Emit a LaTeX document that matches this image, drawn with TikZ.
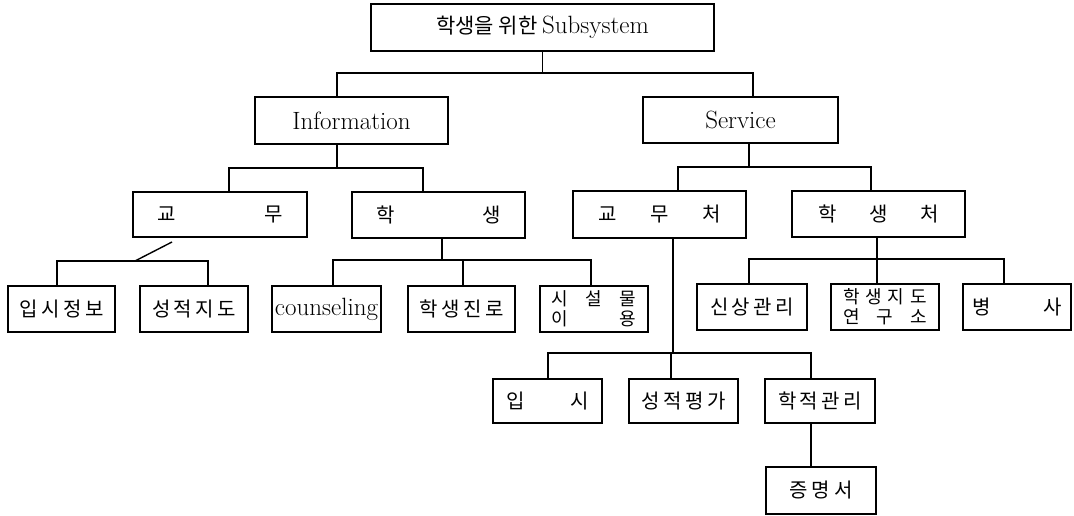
\documentclass[tikz,border=0pt]{standalone}
\usepackage{fontspec}
\newfontfamily\kr{Noto Sans CJK KR}
\usetikzlibrary{positioning}

\begin{document}
\begin{tikzpicture}[
		x=1pt, y=-1pt,
		line width=1.4pt,
		every node/.style = {
			draw, rectangle,
			minimum height=46pt,
			outer sep=0cm, inner sep=0cm,
			font=\kr\fontsize{20}{24}\selectfont
		},
		latin/.style = {font=\rmfamily\fontsize{25}{28}\selectfont},
		twoline/.style = {align=center, font=\kr\fontsize{18}{20}\selectfont}
		]
		\useasboundingbox (0,0) rectangle (1074,516);
		%\draw (0,0) grid[step=50] (1074,516);
		
		% levels 1 and 2
		\node[minimum width=343pt, minimum height=47pt, font=\kr\fontsize{21}{24}\selectfont] (top) at (542.5,27.5) {학생을 위한 {\rmfamily\fontsize{25}{28}\selectfont Subsystem}};
		\node[latin, minimum width=193pt, minimum height=47pt] (info) at (351.5,120.5) {Information};
		\node[latin, minimum width=195pt] (serv) at (740.5,120) {Service};
		
		% level 3
		\node[minimum width=174pt, minimum height=45pt] (kyomu) at (220,214.5) {\makebox[126pt][s]{교\hfill 무}};
		\node[minimum width=173pt] (haksaeng) at (438.5,215) {\makebox[125pt][s]{학\hfill 생}};
		\node[minimum width=173pt, minimum height=47pt] (kyomuch) at (659.5,214.5) {\makebox[123pt][s]{교\hfill 무\hfill 처}};
		\node[minimum width=173pt] (haksch) at (878.5,214) {\makebox[120pt][s]{학\hfill 생\hfill 처}};
		
		% level 4
		\node[minimum width=107pt] (ipsiinfo) at (61.5,309) {\makebox[84pt][s]{입\hfill 시\hfill 정\hfill 보}};
		\node[minimum width=108pt] (jido) at (194,309) {\makebox[84pt][s]{성\hfill 적\hfill 지\hfill 도}};
		\node[latin, minimum width=109pt] (counsel) at (326.5,309) {counseling};
		\node[minimum width=107pt] (jinro) at (461.5,309) {\makebox[84pt][s]{학\hfill 생\hfill 진\hfill 로}};
		\node[twoline, minimum width=108pt] (siseol) at (594,309) {\makebox[85pt][s]{시\hfill 설\hfill 물}\\\makebox[85pt][s]{이\hfill 용}};
		\node[minimum width=110pt] (sinsang) at (752,307) {\makebox[84pt][s]{신\hfill 상\hfill 관\hfill 리}};
		\node[twoline, minimum width=108pt] (yeongu) at (885,307) {\makebox[84pt][s]{학\hfill 생\hfill 지\hfill 도}\\\makebox[84pt][s]{연\hfill 구\hfill 소}};
		\node[minimum width=108pt] (byeongsa) at (1017,307) {\makebox[90pt][s]{병\hfill 사}};
		
		% level 5 and 6
		\node[minimum width=109pt, minimum height=44pt] (ipsi) at (547.5,401) {\makebox[83pt][s]{입\hfill 시}};
		\node[minimum width=109pt, minimum height=44pt] (pyeongga) at (683.5,401) {\makebox[84pt][s]{성\hfill 적\hfill 평\hfill 가}};
		\node[minimum width=110pt, minimum height=44pt] (hakjeok) at (820,401) {\makebox[84pt][s]{학\hfill 적\hfill 관\hfill 리}};
		\node[minimum width=110pt, minimum height=47pt] (jeungmyeong) at (821,490.5) {\makebox[64pt][s]{증\hfill 명\hfill 서}};
		
		% bus lines
		\coordinate (b0l) at (337,73);
		\coordinate (b0r) at (753,73);
		\coordinate (b1s) at (337,168);
		\coordinate (b1l) at (229,168);
		\coordinate (b1r) at (423,168);
		\coordinate (b2s) at (135,261);
		\coordinate (b2l) at (57,261);
		\coordinate (b2r) at (208,261);
		\coordinate (b3s) at (442,260);
		\coordinate (b3l) at (333,260);
		\coordinate (b3m) at (463,260);
		\coordinate (b3r) at (591,260);
		\coordinate (b4s) at (749,167);
		\coordinate (b4l) at (678,167);
		\coordinate (b4r) at (871,167);
		\coordinate (b5s) at (673,353);
		\coordinate (b5l) at (548,353);
		\coordinate (b5m) at (671,353);
		\coordinate (b5r) at (811,353);
		\coordinate (b6s) at (877,259);
		\coordinate (b6l) at (749,259);
		\coordinate (b6r) at (1004,259);
		
		\draw (top.south) -- (top.south |- b0l);
		\draw (info.north -| b0l) -- (b0l) -- (b0r) -- (serv.north -| b0r);
		
		\draw (info.south -| b1s) -- (b1s);
		\draw (kyomu.north -| b1l) -- (b1l) -- (b1r) -- (haksaeng.north -| b1r);
		
		\draw ([shift={(-48pt,-5pt)}]kyomu.south) -- (b2s);
		\draw (ipsiinfo.north -| b2l) -- (b2l) -- (b2r) -- (jido.north -| b2r);
		
		\draw (haksaeng.south -| b3s) -- (b3s);
		\draw (counsel.north -| b3l) -- (b3l) -- (b3r) -- (siseol.north -| b3r);
		\draw (b3m) -- (jinro.north -| b3m);
		
		\draw (serv.south -| b4s) -- (b4s);
		\draw (kyomuch.north -| b4l) -- (b4l) -- (b4r) -- (haksch.north -| b4r);
		
		\draw (kyomuch.south -| b5s) -- (b5s);
		\draw (ipsi.north -| b5l) -- (b5l) -- (b5r) -- (hakjeok.north -| b5r);
		\draw (b5m) -- (pyeongga.north -| b5m);
		\draw (hakjeok.south -| b5r) -- (jeungmyeong.north -| b5r);
		
		\draw (haksch.south -| b6s) -- (b6s);
		\draw (sinsang.north -| b6l) -- (b6l) -- (b6r) -- (byeongsa.north -| b6r);
		\draw (b6s) -- (yeongu.north -| b6s);
	\end{tikzpicture}
\end{document}
